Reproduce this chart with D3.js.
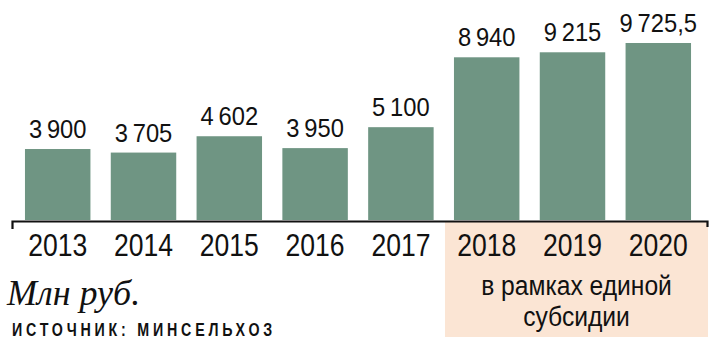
<!DOCTYPE html>
<html><head><meta charset="utf-8">
<script src="https://cdn.jsdelivr.net/npm/d3@7"></script>
<style>body{margin:0;background:#fff}svg{display:block}</style>
</head><body>
<svg id="c" width="723" height="358"></svg>
<script>
const years = ["2013","2014","2015","2016","2017","2018","2019","2020"];
const values = [3900, 3705, 4602, 3950, 5100, 8940, 9215, 9725.5];
const valueLabels = ["3\u2009900","3\u2009705","4\u2009602","3\u2009950","5\u2009100","8\u2009940","9\u2009215","9\u2009725,5"];
const subsidyYears = ["2018","2019","2020"];
const noteLines = ["в рамках единой","субсидии"];
const unitLabel = "Млн руб.";
const sourceLabel = "ИСТОЧНИК: МИНСЕЛЬХОЗ";

const svg = d3.select("#c");
const sans = "'Liberation Sans Narrow','Arial Narrow','Liberation Sans',Arial,sans-serif";
const baseY = 220;
const x = d3.scaleBand().domain(years).range([14.8, 701.2]).paddingInner(0.237).paddingOuter(0.1185);
const y = d3.scaleLinear().domain([0, 10000]).range([baseY, baseY - 182]);

// highlight box behind subsidy years
const hx0 = x(subsidyYears[0]) - 9, hx1 = x(subsidyYears[subsidyYears.length-1]) + x.bandwidth() + 17;
svg.append("rect").attr("x", hx0).attr("y", baseY + 1).attr("width", hx1 - hx0).attr("height", 116).attr("fill", "#fbe5d4");

// bars
svg.selectAll("rect.bar").data(years).join("rect").attr("class","bar")
  .attr("x", d => x(d)).attr("width", x.bandwidth())
  .attr("y", (d,i) => y(values[i])).attr("height", (d,i) => baseY - y(values[i]))
  .attr("fill", "#6f9583");

// value labels
svg.selectAll("text.val").data(years).join("text").attr("class","val")
  .attr("transform", (d,i) => `translate(${x(d) + x.bandwidth()/2},${y(values[i]) - 11}) scale(0.95,1)`)
  .attr("text-anchor","middle").attr("font-family", sans).attr("font-size", 25)
  .attr("fill","#111").text((d,i) => valueLabels[i]);

// axis
const axis = d3.axisBottom(x).tickSize(0).tickPadding(10);
const g = svg.append("g").attr("transform", `translate(0,${baseY})`).call(axis);
g.select(".domain").remove();
g.selectAll("text").attr("font-family", sans).attr("font-size", 32).attr("fill","#111")
  .attr("dy", "0.8em").attr("transform","scale(0.83,1)");
svg.append("path").attr("d", `M12.5,229V221.5H707.5V227`).attr("fill","none").attr("stroke","#111").attr("stroke-width",2.2);

// note
const nx = (hx0 + hx1) / 2;
svg.selectAll("text.note").data(noteLines).join("text").attr("class","note")
  .attr("transform", (d,i) => `translate(${nx},${295 + i*31}) scale(0.88,1)`).attr("text-anchor","middle")
  .attr("font-family", sans).attr("font-size", 28).attr("fill","#111").text(d => d);

svg.append("text").attr("x", 7).attr("y", 305).attr("font-family","'Liberation Serif','Times New Roman',serif")
  .attr("font-style","italic").attr("font-size", 36).attr("fill","#111").text(unitLabel);
svg.append("text").attr("transform","translate(12,336) scale(0.75,1)").attr("font-family", sans).attr("font-weight","bold")
  .attr("font-size", 19).attr("fill","#111").attr("textLength", 347).attr("lengthAdjust","spacing").text(sourceLabel);
</script>
</body></html>
